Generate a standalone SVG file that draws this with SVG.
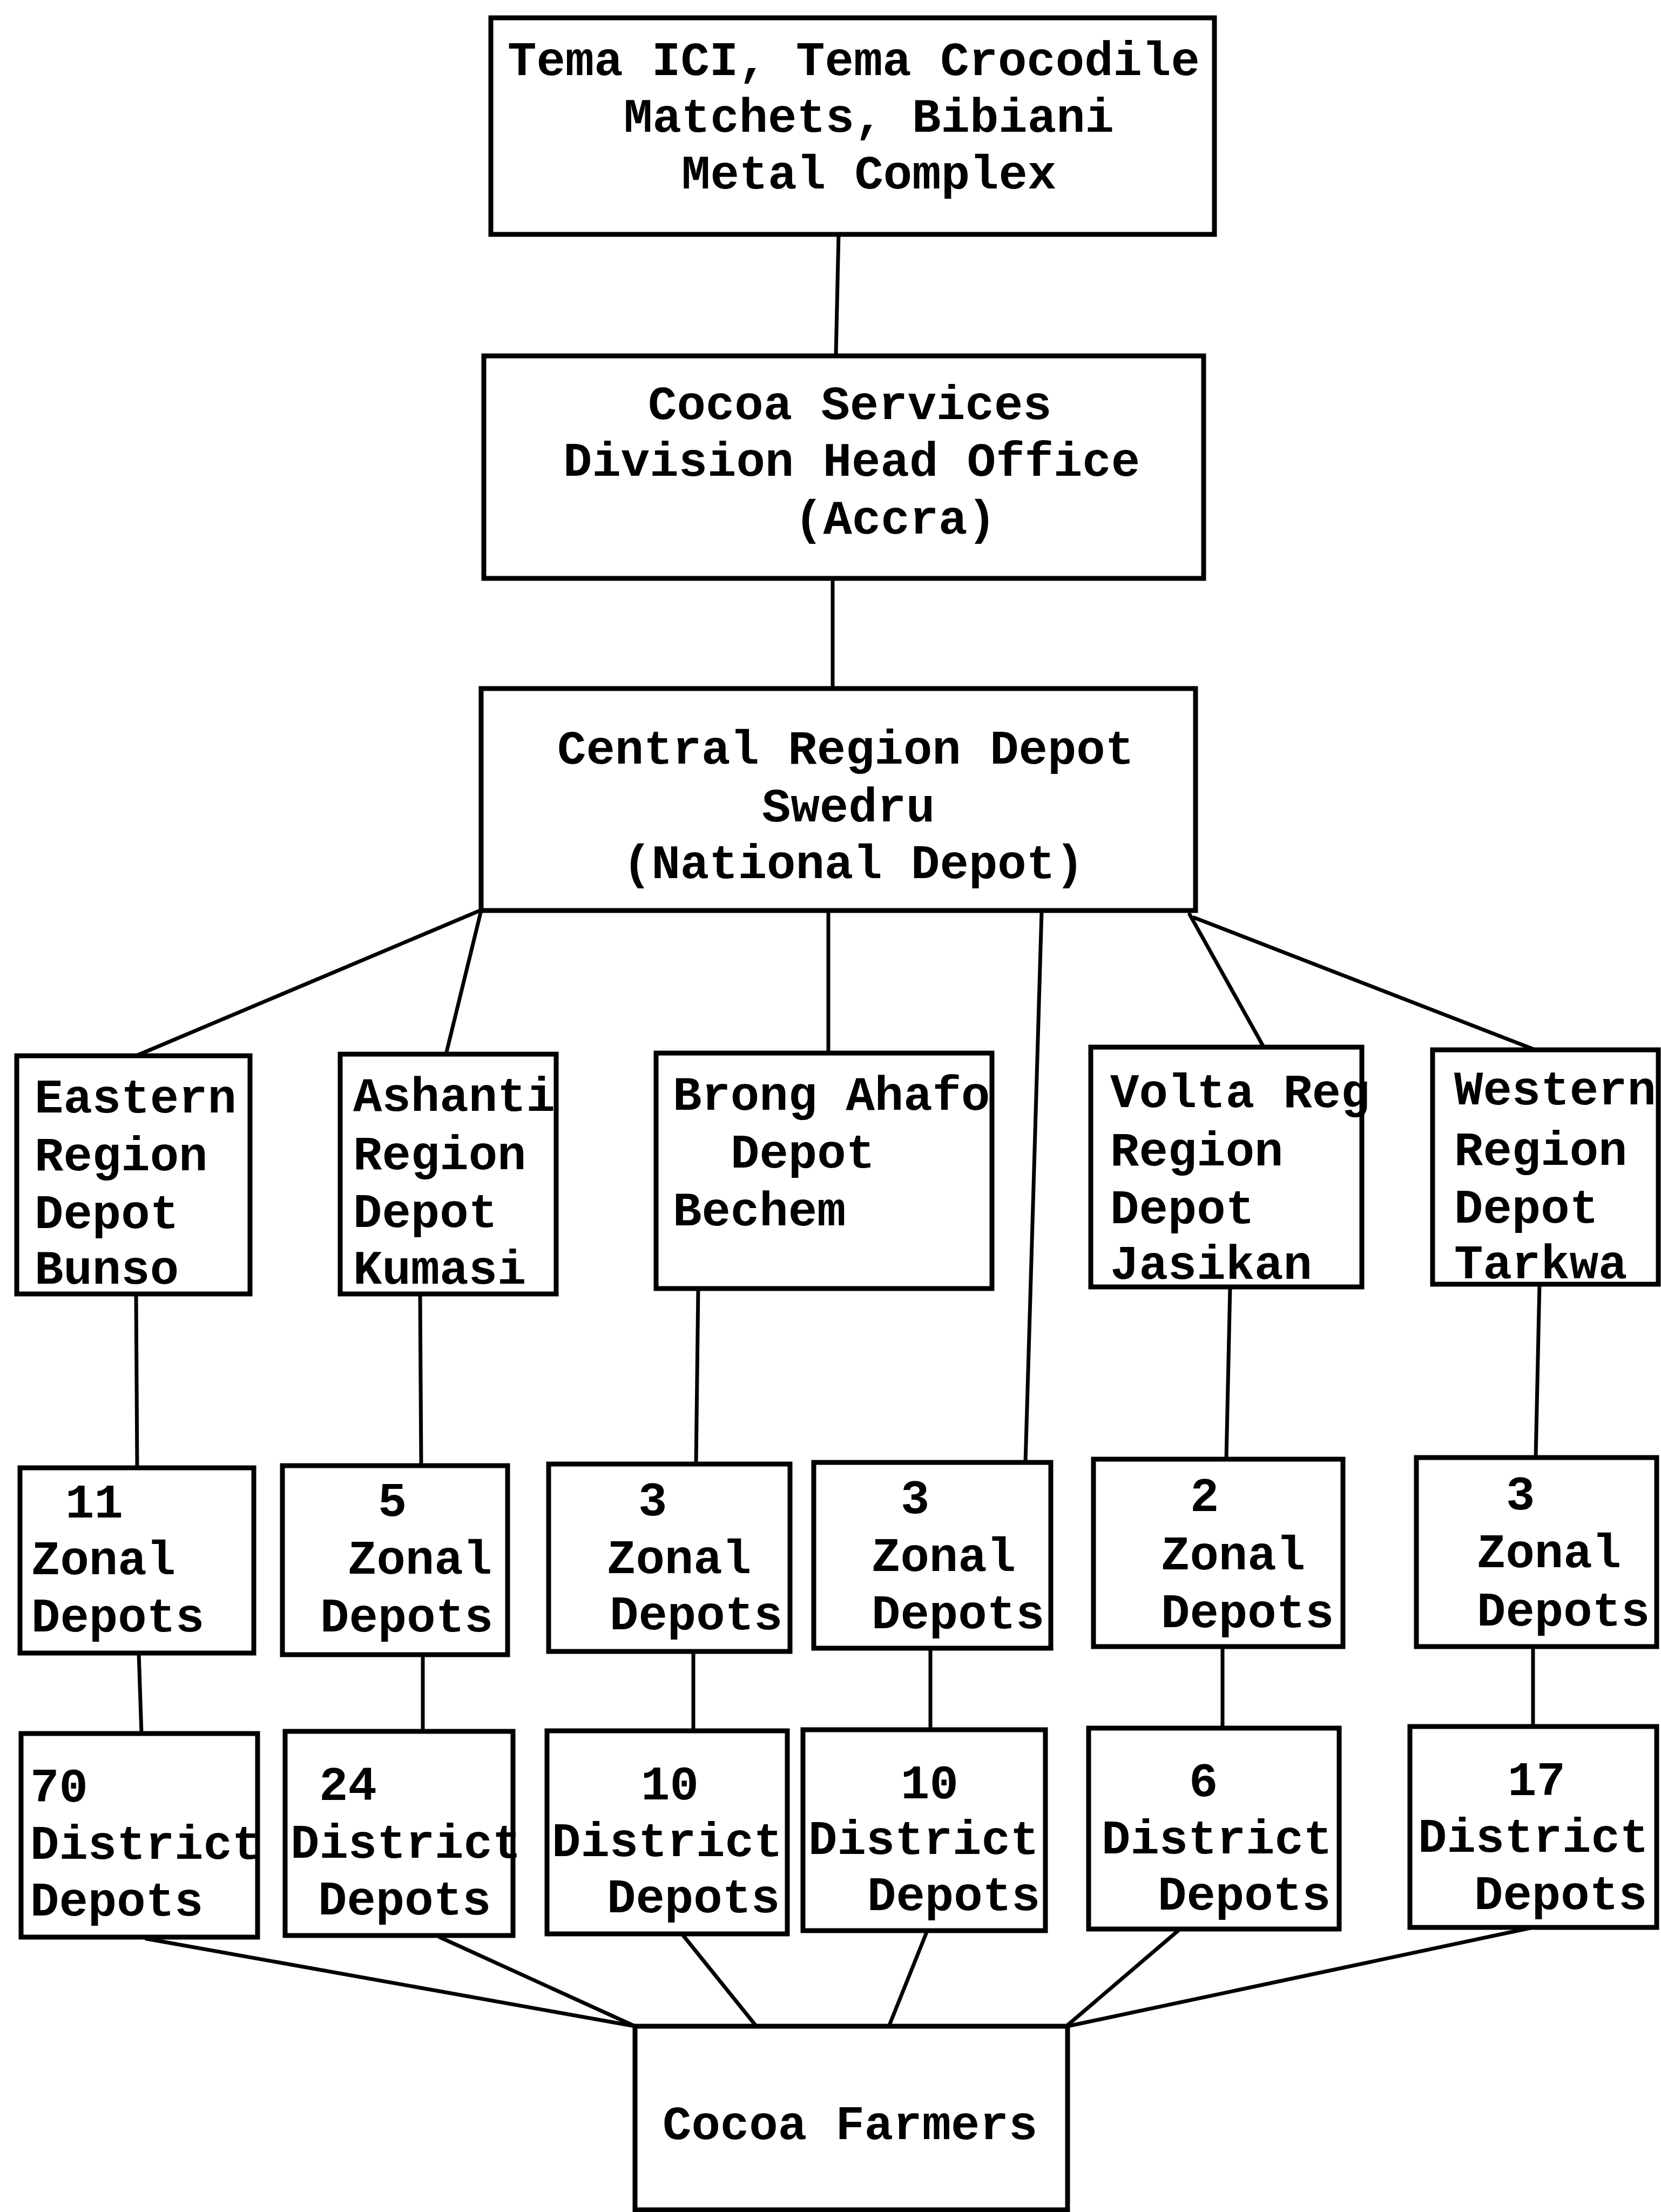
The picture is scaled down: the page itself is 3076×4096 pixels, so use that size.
<svg xmlns="http://www.w3.org/2000/svg" width="3076" height="4096" viewBox="0 0 3076 4096">
<style>
.box{fill:#fff;stroke:#000;stroke-width:9}
.ln{stroke:#000;stroke-width:7;fill:none;stroke-linecap:round}
text{font-family:"Liberation Mono","Courier New",monospace;font-size:89px;font-weight:bold;fill:#000}
</style>
<rect x="0" y="0" width="3076" height="4096" fill="#fff"/>
<g id="connectors">
<line class="ln" x1="1553" y1="434" x2="1548" y2="659"/>
<line class="ln" x1="1542" y1="1071" x2="1542" y2="1275"/>
<line class="ln" x1="889" y1="1686" x2="252" y2="1955"/>
<line class="ln" x1="891" y1="1686" x2="826" y2="1952"/>
<line class="ln" x1="1534" y1="1686" x2="1534" y2="1950"/>
<line class="ln" x1="1929" y1="1688" x2="1899" y2="2708"/>
<line class="ln" x1="2203" y1="1693" x2="2342" y2="1942"/>
<line class="ln" x1="2211" y1="1699" x2="2851" y2="1947"/>
<line class="ln" x1="252" y1="2396" x2="254" y2="2718"/>
<line class="ln" x1="778" y1="2396" x2="780" y2="2714"/>
<line class="ln" x1="1293" y1="2386" x2="1289" y2="2711"/>
<line class="ln" x1="2278" y1="2383" x2="2271" y2="2702"/>
<line class="ln" x1="2851" y1="2378" x2="2844" y2="2699"/>
<line class="ln" x1="257" y1="3061" x2="262" y2="3210"/>
<line class="ln" x1="783" y1="3064" x2="783" y2="3206"/>
<line class="ln" x1="1284" y1="3058" x2="1284" y2="3205"/>
<line class="ln" x1="1723" y1="3052" x2="1723" y2="3203"/>
<line class="ln" x1="2264" y1="3049" x2="2264" y2="3200"/>
<line class="ln" x1="2839" y1="3049" x2="2839" y2="3197"/>
<line class="ln" x1="271" y1="3590" x2="1176" y2="3752"/>
<line class="ln" x1="814" y1="3587" x2="1176" y2="3752"/>
<line class="ln" x1="1262" y1="3580" x2="1399" y2="3750"/>
<line class="ln" x1="1718" y1="3573" x2="1645" y2="3755"/>
<line class="ln" x1="2183" y1="3574" x2="1977" y2="3750"/>
<line class="ln" x1="2839" y1="3569" x2="1977" y2="3752"/>
</g>
<g id="suppliers">
<rect class="box" x="909" y="33" width="1340" height="401"/>
<text x="940" y="139">Tema ICI, Tema Crocodile</text>
<text x="1155" y="244">Matchets, Bibiani</text>
<text x="1262" y="349">Metal Complex</text>
</g>
<g id="head-office">
<rect class="box" x="896" y="659" width="1333" height="412"/>
<text x="1200" y="776">Cocoa Services</text>
<text x="1043" y="881">Division Head Office</text>
<text x="1471" y="988">(Accra)</text>
</g>
<g id="central-depot">
<rect class="box" x="891" y="1275" width="1323" height="411"/>
<text x="1032" y="1414">Central Region Depot</text>
<text x="1411" y="1521">Swedru</text>
<text x="1153" y="1626">(National Depot)</text>
</g>
<g id="eastern">
<rect class="box" x="31" y="1955" width="432" height="441"/>
<text x="64" y="2060">Eastern</text>
<text x="64" y="2167">Region</text>
<text x="64" y="2274">Depot</text>
<text x="64" y="2377">Bunso</text>
</g>
<g id="ashanti">
<rect class="box" x="630" y="1952" width="400" height="444"/>
<text x="654" y="2057">Ashanti</text>
<text x="654" y="2165">Region</text>
<text x="654" y="2272">Depot</text>
<text x="654" y="2377">Kumasi</text>
</g>
<g id="brong-ahafo">
<rect class="box" x="1215" y="1950" width="622" height="436"/>
<text x="1246" y="2055">Brong Ahafo</text>
<text x="1353" y="2162">Depot</text>
<text x="1246" y="2269">Bechem</text>
</g>
<g id="volta">
<rect class="box" x="2020" y="1939" width="502" height="444"/>
<text x="2056" y="2050">Volta Reg</text>
<text x="2056" y="2158">Region</text>
<text x="2056" y="2265">Depot</text>
<text x="2056" y="2368">Jasikan</text>
</g>
<g id="western">
<rect class="box" x="2653" y="1944" width="418" height="434"/>
<text x="2693" y="2045">Western</text>
<text x="2693" y="2157">Region</text>
<text x="2693" y="2264">Depot</text>
<text x="2693" y="2367">Tarkwa</text>
</g>
<g id="zonal-1">
<rect class="box" x="37" y="2718" width="433" height="343"/>
<text x="121" y="2810">11</text>
<text x="58" y="2915">Zonal</text>
<text x="58" y="3021">Depots</text>
</g>
<g id="zonal-2">
<rect class="box" x="523" y="2714" width="417" height="350"/>
<text x="700" y="2807">5</text>
<text x="644" y="2914">Zonal</text>
<text x="593" y="3021">Depots</text>
</g>
<g id="zonal-3">
<rect class="box" x="1016" y="2711" width="447" height="347"/>
<text x="1182" y="2806">3</text>
<text x="1124" y="2913">Zonal</text>
<text x="1129" y="3017">Depots</text>
</g>
<g id="zonal-4">
<rect class="box" x="1507" y="2708" width="439" height="344"/>
<text x="1668" y="2802">3</text>
<text x="1614" y="2909">Zonal</text>
<text x="1614" y="3015">Depots</text>
</g>
<g id="zonal-5">
<rect class="box" x="2025" y="2702" width="462" height="347"/>
<text x="2204" y="2798">2</text>
<text x="2150" y="2906">Zonal</text>
<text x="2150" y="3013">Depots</text>
</g>
<g id="zonal-6">
<rect class="box" x="2623" y="2699" width="445" height="350"/>
<text x="2789" y="2795">3</text>
<text x="2735" y="2902">Zonal</text>
<text x="2735" y="3010">Depots</text>
</g>
<g id="district-1">
<rect class="box" x="39" y="3210" width="438" height="377"/>
<text x="56" y="3336">70</text>
<text x="56" y="3442">District</text>
<text x="56" y="3547">Depots</text>
</g>
<g id="district-2">
<rect class="box" x="528" y="3206" width="422" height="378"/>
<text x="591" y="3333">24</text>
<text x="538" y="3440">District</text>
<text x="589" y="3545">Depots</text>
</g>
<g id="district-3">
<rect class="box" x="1013" y="3205" width="445" height="376"/>
<text x="1187" y="3332">10</text>
<text x="1022" y="3437">District</text>
<text x="1124" y="3541">Depots</text>
</g>
<g id="district-4">
<rect class="box" x="1487" y="3203" width="449" height="372"/>
<text x="1668" y="3330">10</text>
<text x="1497" y="3433">District</text>
<text x="1606" y="3537">Depots</text>
</g>
<g id="district-5">
<rect class="box" x="2016" y="3200" width="464" height="372"/>
<text x="2202" y="3326">6</text>
<text x="2040" y="3432">District</text>
<text x="2144" y="3536">Depots</text>
</g>
<g id="district-6">
<rect class="box" x="2611" y="3197" width="457" height="372"/>
<text x="2792" y="3324">17</text>
<text x="2626" y="3429">District</text>
<text x="2730" y="3535">Depots</text>
</g>
<g id="farmers">
<rect class="box" x="1176" y="3752" width="801" height="340"/>
<text x="1227" y="3961">Cocoa Farmers</text>
</g>
</svg>
